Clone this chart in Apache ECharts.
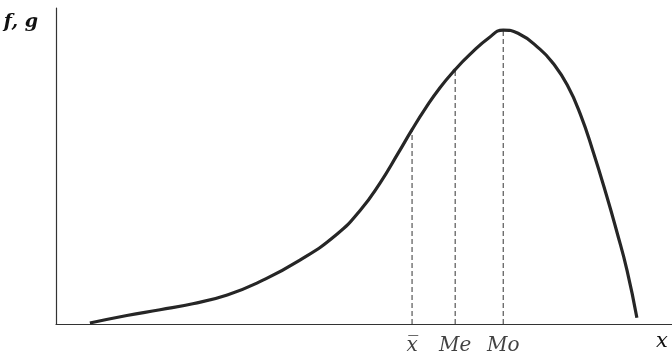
<!DOCTYPE html>
<html>
<head>
<meta charset="utf-8">
<script src="https://cdn.jsdelivr.net/npm/echarts@6/dist/echarts.min.js"></script>
<style>html,body{margin:0;padding:0;background:#fff}#c{width:672px;height:359px}</style>
</head>
<body>
<div id="c"></div>
<script>
// Curve values (x, f(x)), arbitrary units 0..100
const curveX = [5.5, 11.5, 16.9, 22.2, 27.8, 33.1, 39.6, 45.6, 49.4, 52.6, 55.5, 57.8, 60.0, 62.3, 64.8, 67.2, 70.3, 72.6, 75.0, 78.6, 80.7, 83.0, 85.1, 87.2, 89.4, 91.0, 92.7, 94.3];
const curveY = [0.3, 2.7, 4.5, 6.4, 9.2, 13.4, 20.2, 28.4, 36.0, 44.6, 53.9, 61.5, 68.3, 74.7, 80.5, 85.3, 90.6, 93.0, 92.0, 86.9, 82.5, 75.6, 66.5, 54.5, 40.5, 29.5, 17.0, 2.0];
// Mean, median, mode markers
const markerNames = ['x\u0305', 'Me', 'Mo'];
const markerX = [57.8, 64.8, 72.6];
const markerY = [61.5, 80.5, 93.0];
const yAxisName = 'f, g';
const xAxisName = 'x';

const ink = '#262626';
const labelFont = '"DejaVu Serif", "Liberation Serif", serif';

const series = [{
  type: 'line',
  data: curveX.map((x, i) => [x, curveY[i]]),
  smooth: 0.5,
  showSymbol: false,
  lineStyle: { color: ink, width: 3.2 },
  z: 5
}];
markerX.forEach((x, i) => {
  series.push({
    type: 'line',
    data: [[x, 0], [x, markerY[i]]],
    showSymbol: false,
    lineStyle: { color: '#333', width: 1, type: [5, 3] },
    z: 3
  });
});
series.push({
  type: 'scatter',
  data: markerX.map((x, i) => ({ value: [x, 0], name: markerNames[i] })),
  symbolSize: 0,
  label: {
    show: true,
    position: 'bottom',
    distance: 12,
    formatter: p => p.name,
    fontFamily: labelFont,
    fontStyle: 'italic',
    fontSize: 20,
    color: '#111'
  },
  silent: true
});

const chart = echarts.init(document.getElementById('c'));
chart.setOption({
  animation: false,
  grid: { left: 56, right: 0, top: 8, bottom: 35 },
  xAxis: {
    type: 'value', min: 0, max: 100,
    name: xAxisName, nameLocation: 'end', nameGap: -10,
    nameTextStyle: { fontFamily: labelFont, fontStyle: 'italic', fontSize: 21, color: '#111', align: 'center', verticalAlign: 'top', padding: [7, 0, 0, 0] },
    axisLine: { show: true, lineStyle: { color: '#333', width: 1.2 } },
    axisTick: { show: false }, axisLabel: { show: false }, splitLine: { show: false }
  },
  yAxis: {
    type: 'value', min: 0, max: 100,
    name: yAxisName, nameLocation: 'end', nameGap: -14,
    nameTextStyle: { fontFamily: labelFont, fontStyle: 'italic', fontWeight: 'bold', fontSize: 19, color: '#111', align: 'right', verticalAlign: 'middle', padding: [0, 18, 0, 0] },
    axisLine: { show: true, lineStyle: { color: '#333', width: 1.2 } },
    axisTick: { show: false }, axisLabel: { show: false }, splitLine: { show: false }
  },
  series: series
});
</script>
</body>
</html>
